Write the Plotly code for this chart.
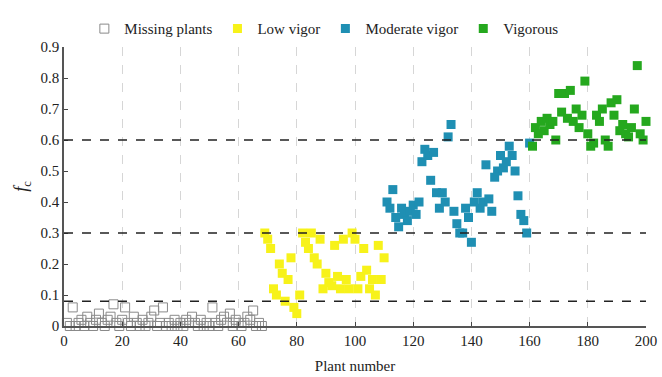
import plotly.graph_objects as go

# ---- data ----
missing_x = list(range(1, 69))
missing_y = [0.01, 0.0, 0.06, 0.0, 0.01, 0.02, 0.0, 0.03, 0.01, 0.0,
             0.02, 0.04, 0.01, 0.0, 0.02, 0.03, 0.07, 0.01, 0.0, 0.02,
             0.06, 0.01, 0.0, 0.03, 0.01, 0.0, 0.02, 0.0, 0.01, 0.03,
             0.05, 0.0, 0.01, 0.06, 0.0, 0.01, 0.0, 0.02, 0.0, 0.01,
             0.0, 0.02, 0.01, 0.03, 0.01, 0.0, 0.02, 0.0, 0.01, 0.0,
             0.06, 0.01, 0.0, 0.02, 0.03, 0.01, 0.04, 0.0, 0.02, 0.01,
             0.0, 0.01, 0.03, 0.02, 0.05, 0.0, 0.01, 0.0]

low_x = list(range(69, 111))
low_y = [0.30, 0.28, 0.25, 0.12, 0.10, 0.20, 0.17, 0.08, 0.15, 0.22,
         0.06, 0.04, 0.10, 0.30, 0.27, 0.25, 0.30, 0.22, 0.20, 0.28,
         0.12, 0.17, 0.14, 0.13, 0.26, 0.16, 0.12, 0.28, 0.15, 0.12,
         0.30, 0.28, 0.12, 0.16, 0.25, 0.18, 0.12, 0.15, 0.10, 0.26,
         0.15, 0.22]

mod_x = list(range(111, 161))
mod_y = [0.40, 0.38, 0.44, 0.35, 0.32, 0.38, 0.36, 0.34, 0.37, 0.39,
         0.36, 0.40, 0.53, 0.57, 0.55, 0.47, 0.56, 0.43, 0.38, 0.43,
         0.40, 0.61, 0.65, 0.37, 0.33, 0.30, 0.30, 0.38, 0.35, 0.27,
         0.40, 0.43, 0.38, 0.40, 0.52, 0.41, 0.37, 0.48, 0.50, 0.55,
         0.51, 0.53, 0.58, 0.55, 0.50, 0.42, 0.36, 0.34, 0.30, 0.59]

vig_x = list(range(161, 201))
vig_y = [0.58, 0.64, 0.62, 0.66, 0.63, 0.67, 0.65, 0.66, 0.60, 0.75,
         0.69, 0.75, 0.67, 0.76, 0.66, 0.70, 0.64, 0.68, 0.79, 0.62,
         0.58, 0.59, 0.68, 0.66, 0.70, 0.60, 0.58, 0.72, 0.68, 0.73,
         0.63, 0.65, 0.62, 0.61, 0.64, 0.70, 0.84, 0.62, 0.60, 0.66]

thresholds = [0.08, 0.3, 0.6]
x_ticks = [0, 20, 40, 60, 80, 100, 120, 140, 160, 180, 200]
y_ticks = [0, 0.1, 0.2, 0.3, 0.4, 0.5, 0.6, 0.7, 0.8, 0.9]
y_ticklabels = ["0", "0.1", "0.2", "0.3", "0.4", "0.5", "0.6", "0.7", "0.8", "0.9"]

FONT = "Liberation Serif, Times New Roman, serif"

fig = go.Figure()
fig.add_trace(go.Scatter(x=missing_x, y=missing_y, mode="markers", name="Missing plants",
                         marker=dict(symbol="square-open", size=9, color="#8a8a8a",
                                     line=dict(width=1, color="#8a8a8a"))))
fig.add_trace(go.Scatter(x=low_x, y=low_y, mode="markers", name="Low vigor",
                         marker=dict(symbol="square", size=9, color="#f7f21a")))
fig.add_trace(go.Scatter(x=mod_x, y=mod_y, mode="markers", name="Moderate vigor",
                         marker=dict(symbol="square", size=9, color="#1f8fb3")))
fig.add_trace(go.Scatter(x=vig_x, y=vig_y, mode="markers", name="Vigorous",
                         marker=dict(symbol="square", size=9, color="#25a81e")))

for t in thresholds:
    fig.add_shape(type="line", xref="x", yref="y", x0=0, x1=200, y0=t, y1=t,
                  line=dict(color="#222222", width=1.5, dash="dash"), layer="above")

fig.update_layout(
    width=662, height=377,
    margin=dict(l=64, r=16, t=45, b=51),
    paper_bgcolor="white", plot_bgcolor="white",
    font=dict(family=FONT, size=15, color="#222222"),
    showlegend=True,
    legend=dict(orientation="h", x=0.035, y=1.065, xanchor="left", yanchor="middle",
                font=dict(family=FONT, size=15, color="#222222"),
                itemwidth=30, bgcolor="rgba(0,0,0,0)", tracegroupgap=0),
    xaxis=dict(range=[0, 200], tickvals=x_ticks, ticks="inside", ticklen=4,
               showline=True, linecolor="#555555", linewidth=1.5,
               showgrid=True, gridcolor="#d6d6d6", griddash="dash", gridwidth=1,
               zeroline=False, mirror=False, automargin=False,
               title=dict(text="Plant number", font=dict(family=FONT, size=15), standoff=13),
               tickfont=dict(family=FONT, size=15)),
    yaxis=dict(range=[0, 0.9], tickvals=y_ticks, ticktext=y_ticklabels, ticks="inside", ticklen=4,
               showline=True, linecolor="#555555", linewidth=1.5,
               showgrid=False, zeroline=False, automargin=False,
               title=dict(text="<i>f</i><sub>c</sub>", font=dict(family=FONT, size=18), standoff=8),
               tickfont=dict(family=FONT, size=15)),
)
fig.update_traces(cliponaxis=False)

fig.write_html("out.html")
